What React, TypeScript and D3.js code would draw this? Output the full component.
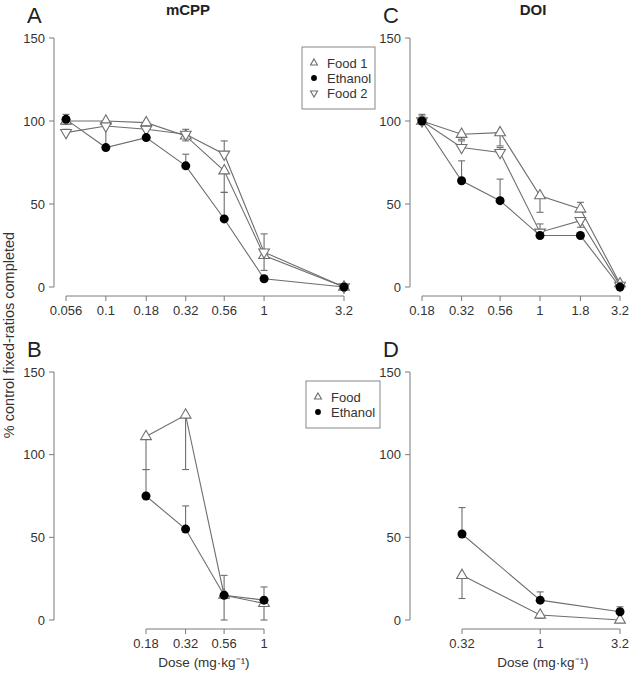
import React from "react";
import * as d3 from "d3";

// ---------- data ----------
const doseA = [0.056, 0.1, 0.18, 0.32, 0.56, 1, 3.2];
const food1A = [100, 100, 99, 91, 70, 19, 0];
const ethanolA = [101, 84, 90, 73, 41, 5, 0];
const food2A = [93, 97, 95, 92, 80, 21, 0];
const food1ErrA = [98, null, 97, 88, 57, 10, null];
const ethanolErrA = [104, 97, 95, 80, 57, 6, null];
const food2ErrA = [95, 99, 97, 95, 88, 32, null];

const doseC = [0.18, 0.32, 0.56, 1, 1.8, 3.2];
const food1C = [100, 92, 93, 55, 47, 2];
const ethanolC = [100, 64, 52, 31, 31, 0];
const food2C = [100, 84, 81, 33, 40, 1];
const food1ErrC = [null, 89, 85, 45, 51, null];
const ethanolErrC = [104, 76, 65, null, null, null];
const food2ErrC = [103, 88, 84, 38, 36, null];

const doseB = [0.18, 0.32, 0.56, 1];
const foodB = [111, 124, 15, 10];
const ethanolB = [75, 55, 15, 12];
const foodErrB = [91, 91, 0, 0];
const ethanolErrB = [91, 69, 27, 20];

const doseD = [0.32, 1, 3.2];
const foodD = [27, 3, 0];
const ethanolD = [52, 12, 5];
const foodErrD = [13, 1, null];
const ethanolErrD = [68, 17, 8];

const yTicks = [0, 50, 100, 150];
const tickLabelsA = ["0.056", "0.1", "0.18", "0.32", "0.56", "1", "3.2"];
const tickLabelsC = ["0.18", "0.32", "0.56", "1", "1.8", "3.2"];
const tickLabelsB = ["0.18", "0.32", "0.56", "1"];
const tickLabelsD = ["0.32", "1", "3.2"];

const legendTop = ["Food 1", "Ethanol", "Food 2"];
const legendBottom = ["Food", "Ethanol"];

// ---------- styles ----------
const FONT = "Liberation Sans, Arial, Helvetica, sans-serif";
const LINE = "#6e6e6e";
const AXIS = "#7a7a7a";
const TEXT = "#333";

type Shape = "up" | "down" | "circle";

function Marker({ x, y, shape, s = 1 }: { x: number; y: number; shape: Shape; s?: number }) {
  if (shape === "circle") {
    return <circle cx={x} cy={y} r={4.5 * s} fill="#000" />;
  }
  const sym = d3.symbol().type(d3.symbolTriangle).size(50 * s * s)();
  const rot = shape === "down" ? 180 : 0;
  return (
    <path
      d={sym || ""}
      transform={`translate(${x},${y}) rotate(${rot})`}
      fill="#fff"
      stroke={LINE}
      strokeWidth={1.1}
    />
  );
}

type Series = { values: number[]; err: (number | null)[]; shape: Shape };

function Panel({
  doses,
  labels,
  series,
  xRange,
  yRange,
  axisX,
  xAxisY,
}: {
  doses: number[];
  labels: string[];
  series: Series[];
  xRange: [number, number];
  yRange: [number, number];
  axisX: number;
  xAxisY: number;
}) {
  const x = d3.scaleLog().domain([doses[0], doses[doses.length - 1]]).range(xRange);
  const y = d3.scaleLinear().domain([0, 150]).range(yRange);
  const line = d3
    .line<number>()
    .x((_, i) => x(doses[i]))
    .y((v) => y(v));
  return (
    <g>
      {/* y axis */}
      <line x1={axisX} x2={axisX} y1={y(0)} y2={y(150)} stroke={AXIS} strokeWidth={1} />
      {yTicks.map((t) => (
        <g key={t}>
          <line x1={axisX - 5} x2={axisX} y1={y(t)} y2={y(t)} stroke={AXIS} />
          <text
            x={axisX - 9}
            y={y(t)}
            dy="0.35em"
            textAnchor="end"
            fontSize={13}
            fill={TEXT}
            fontFamily={FONT}
          >
            {t}
          </text>
        </g>
      ))}
      {/* x axis */}
      <line x1={xRange[0]} x2={xRange[1]} y1={xAxisY} y2={xAxisY} stroke={AXIS} />
      {doses.map((d, i) => (
        <g key={i}>
          <line x1={x(d)} x2={x(d)} y1={xAxisY} y2={xAxisY + 5} stroke={AXIS} />
          <text
            x={x(d)}
            y={xAxisY + 19}
            textAnchor="middle"
            fontSize={13}
            fill={TEXT}
            fontFamily={FONT}
          >
            {labels[i]}
          </text>
        </g>
      ))}
      {/* lines */}
      {series.map((s, k) => (
        <path key={k} d={line(s.values) || ""} fill="none" stroke={LINE} strokeWidth={1.1} />
      ))}
      {/* error bars */}
      {series.map((s, k) =>
        s.err.map((e, i) =>
          e === null ? null : (
            <g key={`${k}-${i}`}>
              <line
                x1={x(doses[i])}
                x2={x(doses[i])}
                y1={y(s.values[i])}
                y2={y(e)}
                stroke={LINE}
                strokeWidth={1.1}
              />
              <line
                x1={x(doses[i]) - 3.5}
                x2={x(doses[i]) + 3.5}
                y1={y(e)}
                y2={y(e)}
                stroke={LINE}
                strokeWidth={1.1}
              />
            </g>
          )
        )
      )}
      {/* points */}
      {series.map((s, k) =>
        s.values.map((v, i) => (
          <Marker key={`${k}-${i}`} x={x(doses[i])} y={y(v)} shape={s.shape} />
        ))
      )}
    </g>
  );
}

function Legend({
  x,
  y,
  w,
  h,
  items,
  shapes,
  rowY,
}: {
  x: number;
  y: number;
  w: number;
  h: number;
  items: string[];
  shapes: Shape[];
  rowY: number[];
}) {
  return (
    <g>
      <rect x={x} y={y} width={w} height={h} fill="#fff" stroke="#888" strokeWidth={1} />
      {items.map((it, i) => (
        <g key={it}>
          <Marker x={x + 12} y={rowY[i]} shape={shapes[i]} s={0.65} />
          <text
            x={x + 25}
            y={rowY[i]}
            dy="0.36em"
            fontSize={13}
            fill={TEXT}
            fontFamily={FONT}
          >
            {it}
          </text>
        </g>
      ))}
    </g>
  );
}

export default function App() {
  return (
    <svg
      width={629}
      height={673}
      style={{ position: "absolute", left: 0, top: 0, background: "#fff" }}
      fontFamily={FONT}
    >
      <rect width={629} height={673} fill="#fff" />
      {/* Panel A */}
      <Panel
        doses={doseA}
        labels={tickLabelsA}
        series={[
          { values: food1A, err: food1ErrA, shape: "up" },
          { values: food2A, err: food2ErrA, shape: "down" },
          { values: ethanolA, err: ethanolErrA, shape: "circle" },
        ]}
        xRange={[66, 344]}
        yRange={[287, 38]}
        axisX={54}
        xAxisY={296}
      />
      {/* Panel C */}
      <Panel
        doses={doseC}
        labels={tickLabelsC}
        series={[
          { values: food1C, err: food1ErrC, shape: "up" },
          { values: food2C, err: food2ErrC, shape: "down" },
          { values: ethanolC, err: ethanolErrC, shape: "circle" },
        ]}
        xRange={[422, 620]}
        yRange={[287, 38]}
        axisX={410}
        xAxisY={296}
      />
      {/* Panel B */}
      <Panel
        doses={doseB}
        labels={tickLabelsB}
        series={[
          { values: foodB, err: foodErrB, shape: "up" },
          { values: ethanolB, err: ethanolErrB, shape: "circle" },
        ]}
        xRange={[146, 264]}
        yRange={[620, 372]}
        axisX={54}
        xAxisY={629}
      />
      {/* Panel D */}
      <Panel
        doses={doseD}
        labels={tickLabelsD}
        series={[
          { values: foodD, err: foodErrD, shape: "up" },
          { values: ethanolD, err: ethanolErrD, shape: "circle" },
        ]}
        xRange={[462, 620]}
        yRange={[620, 372]}
        axisX={410}
        xAxisY={629}
      />

      <Legend
        x={302}
        y={47}
        w={73}
        h={62}
        items={legendTop}
        shapes={["up", "circle", "down"]}
        rowY={[63, 78, 93]}
      />
      <Legend
        x={306}
        y={381}
        w={74}
        h={47}
        items={legendBottom}
        shapes={["up", "circle"]}
        rowY={[397, 412]}
      />

      {/* titles and panel letters */}
      <text x={188} y={15} textAnchor="middle" fontSize={15} fontWeight="bold" fill="#222">
        mCPP
      </text>
      <text x={533} y={15} textAnchor="middle" fontSize={15} fontWeight="bold" fill="#222">
        DOI
      </text>
      <text x={27} y={23} fontSize={22} fill="#222">A</text>
      <text x={383} y={23} fontSize={22} fill="#222">C</text>
      <text x={27} y={357} fontSize={22} fill="#222">B</text>
      <text x={383} y={357} fontSize={22} fill="#222">D</text>

      {/* axis titles */}
      <text
        transform="translate(14,335) rotate(-90)"
        textAnchor="middle"
        fontSize={14.5}
        fill={TEXT}
      >
        % control fixed-ratios completed
      </text>
      <text x={204} y={667} textAnchor="middle" fontSize={13.5} fill={TEXT}>
        Dose (mg·kg⁻¹)
      </text>
      <text x={543} y={667} textAnchor="middle" fontSize={13.5} fill={TEXT}>
        Dose (mg·kg⁻¹)
      </text>
    </svg>
  );
}
